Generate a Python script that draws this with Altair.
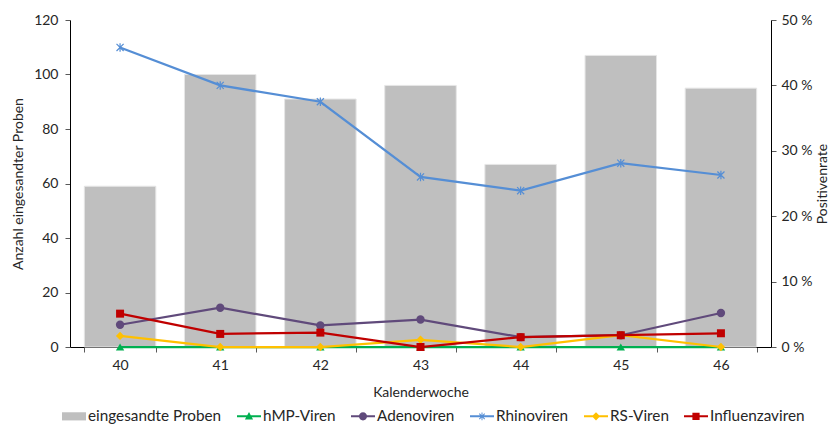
import math
import altair as alt
import pandas as pd

weeks = ["40", "41", "42", "43", "44", "45", "46"]
samples = [59, 100, 91, 96, 67, 107, 95]
hmp = [0, 0, 0, 0, 0, 0, 0]
adeno = [3.4, 6.0, 3.3, 4.2, 1.5, 1.8, 5.2]
rhino = [45.8, 40.0, 37.5, 26.0, 23.9, 28.1, 26.3]
rs = [1.7, 0, 0, 1.1, 0, 1.8, 0]
influenza = [5.1, 2.0, 2.2, 0, 1.5, 1.8, 2.1]

bar_name = "eingesandte Proben"
series_names = ["hMP-Viren", "Adenoviren", "Rhinoviren", "RS-Viren", "Influenzaviren"]
series_values = [hmp, adeno, rhino, rs, influenza]
series_colors = ["#00B050", "#604A7B", "#558ED5", "#FFC000", "#C00000"]
bar_color = "#BFBFBF"

FONT = "Lato"
TEXT = "#262626"

df_bars = pd.DataFrame({"week": weeks, "samples": samples})
rows = []
for name, vals in zip(series_names, series_values):
    for w, v in zip(weeks, vals):
        rows.append({"week": w, "series": name, "rate": v})
df_rates = pd.DataFrame(rows)


# ---- marker / legend glyph paths (styling only) ----
def rect(x0, x1, y0, y1):
    return f"M{x0},{y0}H{x1}V{y1}H{x0}Z"


def rot_rect(half_len, half_w, ang_deg):
    a = math.radians(ang_deg)
    c, s = math.cos(a), math.sin(a)
    pts = [(-half_len, -half_w), (half_len, -half_w), (half_len, half_w), (-half_len, half_w)]
    rp = [(x * c - y * s, x * s + y * c) for x, y in pts]
    return "M" + "L".join(f"{x:.3f},{y:.3f}" for x, y in rp) + "Z"


line_seg = rect(-1, 1, -0.085, 0.085)
tri = "M0,-0.36L0.34,0.26L-0.34,0.26Z"
circ = "M0.34,0A0.34,0.34 0 1,1 -0.34,0A0.34,0.34 0 1,1 0.34,0Z"
star = rot_rect(0.32, 0.04, 45) + rot_rect(0.32, 0.04, 135) + rot_rect(0.32, 0.04, 90)
diam = "M0,-0.34L0.34,0L0,0.34L-0.34,0Z"
sq = rect(-0.3, 0.3, -0.3, 0.3)
legend_paths = [
    rect(-1, 1, -0.34, 0.34),
    line_seg + tri,
    line_seg + circ,
    line_seg + star,
    line_seg + diam,
    line_seg + sq,
]
legend_names = [bar_name] + series_names
legend_colors = [bar_color] + series_colors

marker_shapes = [
    ("triangle-up", 70, True),
    ("circle", 70, True),
    ("M-1,-1L1,1M-1,1L1,-1M0,-1.2L0,1.2", 50, False),
    ("diamond", 70, True),
    ("square", 64, True),
]

x_enc = alt.X(
    "week:N",
    sort=weeks,
    scale=alt.Scale(paddingInner=0.286, paddingOuter=0.143),
    axis=alt.Axis(
        title="Kalenderwoche",
        labelAngle=0,
        tickBand="extent",
        labelPadding=6,
        titlePadding=13,
    ),
)

bars = alt.Chart(df_bars).mark_bar(
    color=bar_color, stroke="#E6E6E6", strokeWidth=1
).encode(
    x=x_enc,
    y=alt.Y(
        "samples:Q",
        scale=alt.Scale(domain=[0, 120], nice=False),
        axis=alt.Axis(
            title="Anzahl eingesandter Proben",
            values=[0, 20, 40, 60, 80, 100, 120],
            labelPadding=7,
            titlePadding=8,
        ),
    ),
)

y_rate = alt.Y(
    "rate:Q",
    scale=alt.Scale(domain=[0, 50], nice=False),
    axis=alt.Axis(
        title="Positivenrate",
        orient="right",
        values=[0, 10, 20, 30, 40, 50],
        labelExpr="datum.value + ' %'",
        labelPadding=5,
        titlePadding=17,
        titleAngle=270,
    ),
)

line_layers = []
for name, col, (shp, sz, filled) in zip(series_names, series_colors, marker_shapes):
    base = alt.Chart(df_rates).transform_filter(alt.datum.series == name)
    line_layers.append(
        base.mark_line(color=col, strokeWidth=2.25).encode(x=x_enc, y=y_rate)
    )
    if filled:
        pm = base.mark_point(shape=shp, size=sz, filled=True, color=col, opacity=1)
    else:
        pm = base.mark_point(shape=shp, size=sz, filled=False, color=col, strokeWidth=1.2, opacity=1)
    line_layers.append(pm.encode(x=x_enc, y=y_rate))

legend_props = dict(
    title=None,
    orient="none",
    direction="horizontal",
    legendX=-8,
    legendY=384,
    symbolSize=576,
    symbolStrokeWidth=0,
    symbolOpacity=1,
    labelOffset=2,
    columnPadding=15,
    labelFont=FONT,
    labelFontSize=15.3,
    labelColor=TEXT,
)

legend_df = pd.DataFrame({"s": legend_names})
legend_layer = alt.Chart(legend_df).transform_filter("false").mark_point(filled=True).encode(
    color=alt.Color(
        "s:N",
        scale=alt.Scale(domain=legend_names, range=legend_colors),
        legend=alt.Legend(**legend_props),
    ),
    shape=alt.Shape(
        "s:N",
        scale=alt.Scale(domain=legend_names, range=legend_paths),
        legend=alt.Legend(**legend_props),
    ),
)

rates = alt.layer(*line_layers, legend_layer)

chart = (
    alt.layer(bars, rates)
    .resolve_scale(y="independent")
    .properties(
        width=701,
        height=327,
        autosize="none",
        padding={"left": 62, "top": 12, "right": 58, "bottom": 78},
    )
    .configure_view(strokeWidth=0)
    .configure_axis(
        grid=False,
        domainColor="#000000",
        tickColor="#595959",
        tickSize=5,
        labelFont=FONT,
        titleFont=FONT,
        labelFontSize=14,
        titleFontSize=14,
        titleFontWeight="normal",
        labelColor=TEXT,
        titleColor=TEXT,
    )
)

chart.save("out.html", embed_options={"renderer": "svg", "actions": False})
